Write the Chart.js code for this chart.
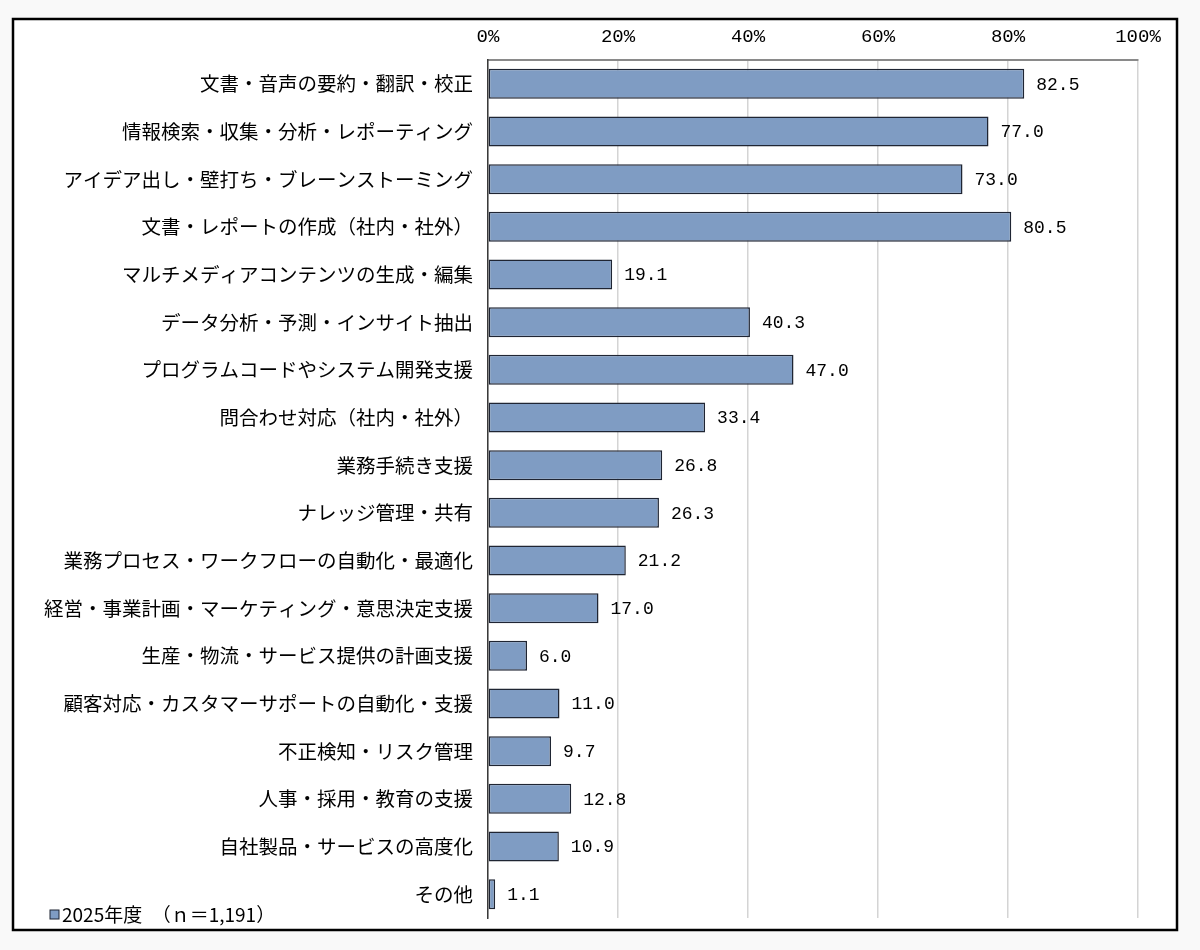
<!DOCTYPE html>
<html>
<head>
<meta charset="utf-8">
<script src="https://cdn.jsdelivr.net/npm/chart.js@4/dist/chart.umd.min.js"></script>
<style>
  html, body { margin: 0; padding: 0; background: #f9f9f9; }
  #wrap { width: 1200px; height: 950px; position: relative; }
</style>
</head>
<body>
<div id="wrap"><canvas id="usageBarChart"></canvas></div>
<script>
// categories (top to bottom) and 2025 share (%)
const categories = [
  '文書・音声の要約・翻訳・校正',
  '情報検索・収集・分析・レポーティング',
  'アイデア出し・壁打ち・ブレーンストーミング',
  '文書・レポートの作成（社内・社外）',
  'マルチメディアコンテンツの生成・編集',
  'データ分析・予測・インサイト抽出',
  'プログラムコードやシステム開発支援',
  '問合わせ対応（社内・社外）',
  '業務手続き支援',
  'ナレッジ管理・共有',
  '業務プロセス・ワークフローの自動化・最適化',
  '経営・事業計画・マーケティング・意思決定支援',
  '生産・物流・サービス提供の計画支援',
  '顧客対応・カスタマーサポートの自動化・支援',
  '不正検知・リスク管理',
  '人事・採用・教育の支援',
  '自社製品・サービスの高度化',
  'その他'
];
const values2025 = [82.5, 77.0, 73.0, 80.5, 19.1, 40.3, 47.0, 33.4, 26.8, 26.3, 21.2, 17.0, 6.0, 11.0, 9.7, 12.8, 10.9, 1.1];
const tickValues = [0, 20, 40, 60, 80, 100];
const seriesName = '2025年度　（ｎ＝1,191）';

const barColor = '#7f9cc3';
const barEdge = '#1f2533';

// white panel + outer frame
const framePlugin = {
  id: 'frame',
  beforeDraw(chart) {
    const ctx = chart.ctx;
    ctx.save();
    ctx.fillStyle = '#ffffff';
    ctx.fillRect(13, 19, 1164, 911);
    ctx.restore();
  },
  afterDraw(chart) {
    const ctx = chart.ctx;
    ctx.save();
    ctx.strokeStyle = '#000000';
    ctx.lineWidth = 2.5;
    ctx.strokeRect(13, 19, 1164, 911);
    // legend in lower left corner
    ctx.fillStyle = barColor;
    ctx.fillRect(50, 910, 9, 9);
    ctx.strokeStyle = barEdge;
    ctx.lineWidth = 1;
    ctx.strokeRect(50, 910, 9, 9);
    ctx.fillStyle = '#000';
    ctx.font = '19px "Noto Sans CJK JP"';
    ctx.textAlign = 'left';
    ctx.textBaseline = 'middle';
    ctx.fillText(seriesName, 62, 915);
    ctx.restore();
  }
};

// value labels right of each bar
const valueLabels = {
  id: 'valueLabels',
  afterDatasetsDraw(chart) {
    const ctx = chart.ctx;
    const meta = chart.getDatasetMeta(0);
    ctx.save();
    ctx.fillStyle = '#000';
    ctx.font = '18px "Liberation Mono"';
    ctx.textAlign = 'left';
    ctx.textBaseline = 'middle';
    meta.data.forEach((bar, i) => {
      ctx.fillText(values2025[i].toFixed(1), bar.x + 12, bar.y + 1);
    });
    ctx.restore();
  }
};

new Chart(document.getElementById('usageBarChart'), {
  type: 'bar',
  data: {
    labels: categories,
    datasets: [{
      label: seriesName,
      data: values2025,
      backgroundColor: barColor,
      borderColor: barEdge,
      borderWidth: 1.5,
      borderSkipped: false,
      barPercentage: 1,
      categoryPercentage: 0.63
    }]
  },
  options: {
    indexAxis: 'y',
    responsive: true,
    maintainAspectRatio: false,
    animation: false,
    layout: { padding: { left: 0, right: 62, top: 0, bottom: 32 } },
    plugins: {
      legend: { display: false },
      tooltip: { enabled: false }
    },
    scales: {
      x: {
        position: 'top',
        min: 0,
        max: 100,
        afterBuildTicks: scale => { scale.ticks = tickValues.map(v => ({ value: v })); },
        afterFit: scale => { scale.height = 60; },
        ticks: {
          callback: v => v + '%',
          color: '#000',
          font: { family: '"Liberation Mono"', size: 19 },
          padding: 12,
          maxRotation: 0
        },
        grid: { color: '#d4d4d4', lineWidth: 1.5, drawTicks: false },
        border: { display: true, color: '#8a8a8a', width: 2 }
      },
      y: {
        afterFit: scale => { scale.width = 488; },
        ticks: {
          color: '#000',
          font: { family: '"Noto Sans CJK JP"', size: 19.5 },
          padding: 15,
          autoSkip: false
        },
        grid: { display: false, drawTicks: false },
        border: { display: true, color: '#3a3a3a', width: 1.5 }
      }
    }
  },
  plugins: [framePlugin, valueLabels]
});
</script>
</body>
</html>
